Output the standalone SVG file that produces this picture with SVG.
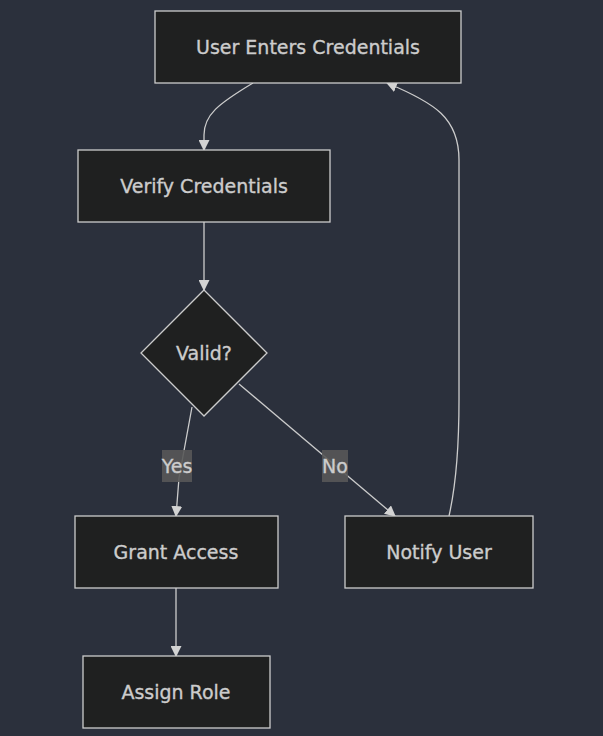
<svg xmlns="http://www.w3.org/2000/svg" width="603" height="736" viewBox="0 0 603 736">
<defs>
<marker id="arr" viewBox="0 0 10 10" refX="9" refY="5" markerWidth="11" markerHeight="11" markerUnits="userSpaceOnUse" orient="auto">
<path d="M0,0 L10,5 L0,10 Z" fill="#d3d3d3"/>
</marker>
</defs>
<style>
.node rect, .node polygon { fill: #1f2020; stroke: #cccccc; stroke-width: 1.3; }
.node text, .lbl text { fill: #cccccc; stroke: #cccccc; stroke-width: 0.35; font-family: "DejaVu Sans", sans-serif; font-size: 19px; text-anchor: middle; dominant-baseline: central; }
.edge { fill: none; stroke: #cccccc; stroke-width: 1.3; marker-end: url(#arr); }
.lbl rect { fill: #585858; opacity: 0.9; }
</style>
<rect x="0" y="0" width="603" height="736" fill="#2b303c"/>
<g id="edges">
<path class="edge" d="M253,83 C218,104 204,115 204,135 L204,150"/>
<path class="edge" d="M204,222 L204,290"/>
<path class="edge" d="M192,407 L179,478 L176,516"/>
<path class="edge" d="M239,384 L395,516"/>
<path class="edge" d="M449,516 C456,485 459,450 459,400 L459,160 C459,118 435,103 387,83"/>
<path class="edge" d="M176,588 L176,656"/>
</g>
<g id="edge-labels">
<g class="lbl" id="lbl-yes"><rect x="162" y="450" width="30" height="32"/><text x="177" y="466">Yes</text></g>
<g class="lbl" id="lbl-no"><rect x="322" y="450" width="26" height="32"/><text x="335" y="466">No</text></g>
</g>
<g class="node" id="A"><rect x="155" y="11" width="306" height="72"/><text x="308" y="47">User Enters Credentials</text></g>
<g class="node" id="B"><rect x="78" y="150" width="252" height="72"/><text x="204" y="186">Verify Credentials</text></g>
<g class="node" id="C"><polygon points="204,290 267,353 204,416 141,353"/><text x="204" y="353">Valid?</text></g>
<g class="node" id="D"><rect x="75" y="516" width="203" height="72"/><text x="176" y="552">Grant Access</text></g>
<g class="node" id="E"><rect x="345" y="516" width="188" height="72"/><text x="439" y="552">Notify User</text></g>
<g class="node" id="F"><rect x="83" y="656" width="187" height="72"/><text x="176" y="692">Assign Role</text></g>
</svg>
